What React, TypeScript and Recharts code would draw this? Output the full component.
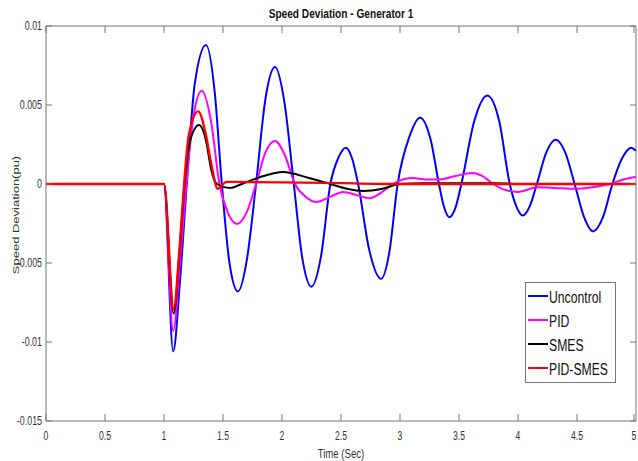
import React from 'react';
import { LineChart, Line, XAxis, YAxis, ReferenceArea, Legend } from 'recharts';

// Time axis (s) and speed deviation axis (pu)
const timeTicks = [0, 0.5, 1, 1.5, 2, 2.5, 3, 3.5, 4, 4.5, 5];
const devTicks = [-0.015, -0.01, -0.005, 0, 0.005, 0.01];

// [time, speed deviation] samples per controller
const uncontrol: [number, number][] = [
  [0, 0], [1.0, 0], [1.078, -0.0106], [1.135, -0.0062], [1.193, 0], [1.26, 0.0063],
  [1.356, 0.0088], [1.43, 0.0058], [1.49, 0], [1.555, -0.005], [1.627, -0.0068],
  [1.7, -0.0049], [1.78, 0], [1.86, 0.0054], [1.94, 0.0074], [2.02, 0.0052], [2.1, 0],
  [2.17, -0.0046], [2.25, -0.0065], [2.33, -0.0046], [2.41, 0], [2.48, 0.0017],
  [2.54, 0.0023], [2.595, 0.0016], [2.645, 0], [2.74, -0.0042], [2.84, -0.006],
  [2.91, -0.0043], [2.98, 0], [3.08, 0.003], [3.17, 0.0042], [3.26, 0.0028], [3.33, 0],
  [3.375, -0.0015], [3.42, -0.0021], [3.47, -0.0015], [3.52, 0], [3.63, 0.004],
  [3.74, 0.0056], [3.84, 0.004], [3.93, 0], [3.985, -0.0014], [4.04, -0.002],
  [4.1, -0.0014], [4.16, 0], [4.24, 0.002], [4.32, 0.0028], [4.4, 0.002], [4.48, 0],
  [4.56, -0.0021], [4.635, -0.003], [4.72, -0.0021], [4.8, 0], [4.88, 0.0016],
  [4.96, 0.0023], [5.0, 0.0021],
];

const pid: [number, number][] = [
  [0, 0], [1.0, 0], [1.078, -0.0093], [1.135, -0.005], [1.19, 0], [1.25, 0.0043],
  [1.32, 0.0059], [1.4, 0.0039], [1.47, 0], [1.54, -0.0018], [1.62, -0.00253],
  [1.7, -0.0018], [1.78, 0], [1.86, 0.002], [1.94, 0.00272], [2.02, 0.0019], [2.11, 0],
  [2.2, -0.0008], [2.29, -0.00114], [2.41, -0.0008], [2.52, -0.0005], [2.63, -0.0007],
  [2.74, -0.0009], [2.85, -0.0005], [2.94, 0], [3.03, 0.0003], [3.11, 0.00038],
  [3.22, 0.00028], [3.33, 0.00028], [3.47, 0.0005], [3.61, 0.0007], [3.7, 0.0005],
  [3.79, 0], [3.9, -0.0004], [4.0, -0.0005], [4.17, -0.0002], [4.32, -0.00025],
  [4.47, -0.0003], [4.63, -0.0002], [4.78, 0], [4.9, 0.0003], [5.0, 0.00044],
];

const smes: [number, number][] = [
  [0, 0], [1.0, 0], [1.082, -0.0082], [1.13, -0.0045], [1.175, 0], [1.22, 0.0027],
  [1.297, 0.00373], [1.36, 0.0026], [1.4, 0.0009], [1.45, 0], [1.56, -0.00025],
  [1.66, 0], [1.8, 0.0004], [2.01, 0.00076], [2.22, 0.0004], [2.41, 0], [2.55, -0.0003],
  [2.69, -0.00044], [2.85, -0.0003], [3.0, 0], [3.2, 0.00005], [3.8, 0.00005], [4.0, 0],
  [5.0, 0],
];

const pidSmes: [number, number][] = [
  [0, 0], [1.0, 0], [1.082, -0.0079], [1.13, -0.0042], [1.17, 0], [1.21, 0.0031],
  [1.29, 0.0046], [1.35, 0.0033], [1.4, 0.0013], [1.455, -0.0003], [1.53, 0.00013],
  [2.0, 0.0001], [2.5, 0.00005], [3.0, 0], [5.0, 0],
];

const seriesNames = ['Uncontrol', 'PID', 'SMES', 'PID-SMES'];
const seriesColors = ['#0000ff', '#ff00ff', '#000000', '#ff0000'];
const seriesPoints = [uncontrol, pid, smes, pidSmes];

const toRows = (pts: [number, number][]) => pts.map(([t, v]) => ({ t, v }));

const CHART_W = 638;
const CHART_H = 461;
const PLOT_L = 46;
const PLOT_R = 636;
const PLOT_T = 26;
const PLOT_B = 421;
const SQUEEZE = 0.74;
const FONT = '"Liberation Sans", Arial, Helvetica, sans-serif';
const TEXT = '#333';
const FRAME = '#777';

function XTick(props: any) {
  const { x, payload } = props;
  return (
    <g>
      <line x1={x} x2={x} y1={PLOT_B} y2={PLOT_B - 7} stroke={FRAME} />
      <line x1={x} x2={x} y1={PLOT_T} y2={PLOT_T + 7} stroke={FRAME} />
      <text
        transform={`translate(${x},${PLOT_B + 19}) scale(0.66,1)`}
        textAnchor="middle"
        fontSize={13}
        fontFamily={FONT}
        fill={TEXT}
      >
        {String(payload.value)}
      </text>
    </g>
  );
}

function YTick(props: any) {
  const { y, payload } = props;
  return (
    <g>
      <line x1={PLOT_L} x2={PLOT_L + 6} y1={y} y2={y} stroke={FRAME} />
      <line x1={PLOT_R} x2={PLOT_R - 6} y1={y} y2={y} stroke={FRAME} />
      <text
        transform={`translate(${PLOT_L - 4},${y + 4}) scale(${SQUEEZE},1)`}
        textAnchor="end"
        fontSize={12}
        fontFamily={FONT}
        fill={TEXT}
      >
        {String(payload.value)}
      </text>
    </g>
  );
}

function LegendBox() {
  return (
    <svg width={91} height={101} style={{ display: 'block' }}>
      <rect x={0.5} y={0.5} width={90} height={100} fill="#fff" stroke="#777" />
      {seriesNames.map((name, i) => (
        <g key={name}>
          <line x1={3} x2={23} y1={14 + i * 24} y2={14 + i * 24} stroke={seriesColors[i]} strokeWidth={2} />
          <text
            transform={`translate(24,${21 + i * 24}) scale(${SQUEEZE},1)`}
            fontSize={16.5}
            fontFamily={FONT}
            fill="#111"
          >
            {name}
          </text>
        </g>
      ))}
    </svg>
  );
}

export default function App() {
  return (
    <div style={{ position: 'absolute', left: 0, top: 0, background: '#fff' }}>
      <LineChart
        width={CHART_W}
        height={CHART_H}
        margin={{ top: PLOT_T, right: CHART_W - PLOT_R, bottom: 0, left: 0 }}
      >
        <XAxis
          type="number"
          dataKey="t"
          domain={[0, 5]}
          ticks={timeTicks}
          allowDataOverflow
          height={CHART_H - PLOT_B}
          axisLine={false}
          tickLine={false}
          tickSize={0}
          tick={<XTick />}
          label={{
            content: () => (
              <text
                transform={`translate(${(PLOT_L + PLOT_R) / 2},${CHART_H - 3}) scale(${SQUEEZE},1)`}
                textAnchor="middle"
                fontSize={13}
                fontFamily={FONT}
                fill={TEXT}
              >
                Time (Sec)
              </text>
            ),
          }}
        />
        <YAxis
          type="number"
          domain={[-0.015, 0.01]}
          ticks={devTicks}
          allowDataOverflow
          width={PLOT_L}
          axisLine={false}
          tickLine={false}
          tickSize={0}
          tick={<YTick />}
          label={{
            content: () => (
              <text
                transform={`translate(19,215) scale(${SQUEEZE},1) rotate(-90)`}
                textAnchor="middle"
                fontSize={13}
                fontFamily={FONT}
                fill={TEXT}
              >
                Speed Deviation(pu)
              </text>
            ),
          }}
        />
        <ReferenceArea x1={0} x2={5} y1={-0.015} y2={0.01} fill="none" stroke={FRAME} strokeWidth={1} ifOverflow="visible" />
        {seriesPoints.map((pts, i) => (
          <Line
            key={seriesNames[i]}
            data={toRows(pts)}
            dataKey="v"
            name={seriesNames[i]}
            type="monotone"
            stroke={seriesColors[i]}
            strokeWidth={i === 3 ? 2.3 : 2}
            dot={false}
            activeDot={false}
            isAnimationActive={false}
          />
        ))}
        <text
          transform={`translate(${(PLOT_L + PLOT_R) / 2},18) scale(${SQUEEZE},1)`}
          textAnchor="middle"
          fontSize={13.7}
          fontWeight="bold"
          fontFamily={FONT}
          fill="#111"
        >
          Speed Deviation - Generator 1
        </text>
        <Legend
          layout="horizontal"
          verticalAlign="middle"
          align="center"
          content={() => <LegendBox />}
          wrapperStyle={{ left: 525, top: 282, width: 91, height: 101 }}
        />
      </LineChart>
    </div>
  );
}
